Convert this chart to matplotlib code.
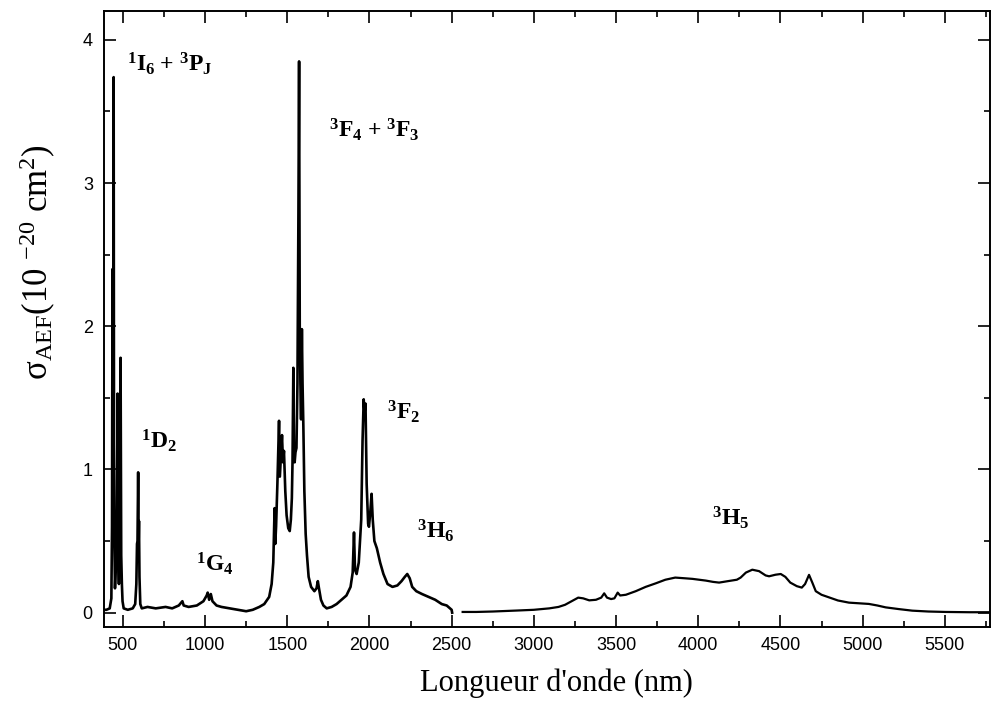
import matplotlib
matplotlib.use("Agg")
import matplotlib.pyplot as plt
from matplotlib.ticker import MultipleLocator

plt.rcParams['mathtext.fontset'] = 'custom'
plt.rcParams['mathtext.rm'] = 'Liberation Serif'
plt.rcParams['mathtext.it'] = 'Liberation Serif:italic'
plt.rcParams['mathtext.bf'] = 'Liberation Serif:bold'

# Visible / near-IR segment (wavelength nm, cross-section 1e-20 cm^2)
wl_vis = [390, 400, 420, 430, 434, 437, 439, 441, 444, 446, 449, 452, 458, 464, 468,
          471, 476, 480, 486, 490, 494, 498, 505, 530, 560, 575, 582, 586, 589, 593,
          596, 598, 601, 606, 615, 650, 700, 760, 800, 840, 862, 870, 900, 950, 990,
          1010, 1016, 1025, 1035, 1045, 1070, 1100, 1150, 1200, 1250, 1290, 1330, 1360,
          1390, 1405, 1415, 1423, 1427, 1432, 1440, 1450, 1455, 1462, 1468, 1474, 1480,
          1488, 1496, 1506, 1515, 1522, 1528, 1532, 1537, 1541, 1545, 1550, 1556, 1562,
          1568, 1572, 1576, 1580, 1584, 1589, 1593, 1598, 1604, 1612, 1620, 1630, 1645,
          1665, 1678, 1686, 1693, 1705, 1720, 1740, 1770, 1800, 1830, 1860, 1885, 1898,
          1906, 1912, 1922, 1935, 1950, 1958, 1965, 1970, 1976, 1983, 1992, 1997, 2005,
          2013, 2020, 2030, 2045, 2065, 2085, 2110, 2140, 2170, 2195, 2215, 2230, 2245,
          2260, 2285, 2320, 2360, 2400, 2440, 2470, 2500, 2503]
sig_vis = [0.02, 0.02, 0.03, 0.10, 0.60, 2.40, 0.80, 0.90, 3.74, 1.20, 0.45, 0.17, 0.35,
           0.70, 1.53, 0.40, 0.20, 0.50, 1.78, 0.40, 0.20, 0.08, 0.03, 0.02, 0.03, 0.06,
           0.20, 0.48, 0.50, 0.98, 0.50, 0.64, 0.25, 0.06, 0.03, 0.04, 0.03, 0.04, 0.03,
           0.05, 0.08, 0.05, 0.04, 0.05, 0.08, 0.12, 0.14, 0.09, 0.13, 0.08, 0.05, 0.04,
           0.03, 0.02, 0.01, 0.02, 0.04, 0.06, 0.11, 0.20, 0.35, 0.73, 0.48, 0.60, 0.90,
           1.34, 0.95, 1.10, 1.24, 1.05, 1.13, 0.85, 0.68, 0.59, 0.57, 0.65, 0.80, 1.05,
           1.71, 1.10, 1.05, 1.12, 1.15, 1.60, 2.80, 3.85, 2.00, 1.60, 1.35, 1.98, 1.60,
           1.30, 0.85, 0.55, 0.40, 0.25, 0.18, 0.15, 0.17, 0.22, 0.17, 0.09, 0.05, 0.03,
           0.04, 0.06, 0.09, 0.12, 0.18, 0.28, 0.56, 0.30, 0.27, 0.35, 0.65, 1.20, 1.49,
           1.40, 1.46, 0.90, 0.62, 0.60, 0.70, 0.83, 0.65, 0.50, 0.45, 0.35, 0.27, 0.20,
           0.18, 0.19, 0.22, 0.25, 0.27, 0.24, 0.18, 0.15, 0.13, 0.11, 0.09, 0.06, 0.05,
           0.02, 0.00]

# Mid-IR segment
wl_ir = [2567, 2650, 2750, 2900, 3000, 3094, 3150, 3190, 3230, 3270, 3300, 3337, 3378,
         3410, 3428, 3445, 3470, 3490, 3510, 3525, 3560, 3620, 3680, 3742, 3800, 3860,
         3920, 3965, 4046, 4090, 4127, 4180, 4235, 4258, 4290, 4329, 4370, 4410, 4431,
         4470, 4502, 4530, 4560, 4600, 4630, 4650, 4674, 4694, 4715, 4750, 4795, 4850,
         4917, 5038, 5090, 5140, 5220, 5302, 5400, 5504, 5650, 5780]
sig_ir = [0.005, 0.005, 0.008, 0.015, 0.02, 0.03, 0.04, 0.055, 0.08, 0.105, 0.10, 0.086,
          0.09, 0.105, 0.135, 0.105, 0.095, 0.10, 0.14, 0.12, 0.125, 0.15, 0.18, 0.205,
          0.23, 0.245, 0.24, 0.236, 0.224, 0.215, 0.21, 0.22, 0.23, 0.245, 0.28, 0.30,
          0.29, 0.26, 0.254, 0.265, 0.27, 0.25, 0.21, 0.185, 0.175, 0.20, 0.264, 0.21,
          0.15, 0.125, 0.107, 0.085, 0.07, 0.061, 0.05, 0.037, 0.025, 0.014, 0.008,
          0.005, 0.003, 0.003]

labels = [r'$^{\mathbf{1}}\mathbf{I}_{\mathbf{6}}\ \mathbf{+}\ ^{\mathbf{3}}\mathbf{P}_{\mathbf{J}}$',
          r'$^{\mathbf{3}}\mathbf{F}_{\mathbf{4}}\ \mathbf{+}\ ^{\mathbf{3}}\mathbf{F}_{\mathbf{3}}$',
          r'$^{\mathbf{1}}\mathbf{D}_{\mathbf{2}}$',
          r'$^{\mathbf{1}}\mathbf{G}_{\mathbf{4}}$',
          r'$^{\mathbf{3}}\mathbf{F}_{\mathbf{2}}$',
          r'$^{\mathbf{3}}\mathbf{H}_{\mathbf{6}}$',
          r'$^{\mathbf{3}}\mathbf{H}_{\mathbf{5}}$']
label_wl = [785, 2031, 719, 1059, 2207, 2401, 4200]
label_sig = [3.83, 3.37, 1.20, 0.34, 1.40, 0.57, 0.66]

fig = plt.figure(figsize=(9.92, 7.04), dpi=100)
ax = fig.add_axes([0.1048, 0.1094, 0.8932, 0.8746])

ax.plot(wl_vis, sig_vis, color='black', lw=1.9)
ax.plot(wl_ir, sig_ir, color='black', lw=1.6)

for t, x, y in zip(labels, label_wl, label_sig):
    ax.text(x, y, t, fontsize=17, ha='center', va='center')

ax.set_xlim(385, 5775)
ax.set_ylim(-0.1, 4.2)
ax.xaxis.set_major_locator(MultipleLocator(500))
ax.xaxis.set_minor_locator(MultipleLocator(250))
ax.yaxis.set_major_locator(MultipleLocator(1))
ax.yaxis.set_minor_locator(MultipleLocator(0.5))
ax.tick_params(which='both', direction='in', top=True, right=True, width=1.2)
ax.tick_params(which='major', length=8.5)
ax.tick_params(which='minor', length=4.5)
ax.tick_params(axis='x', which='major', pad=7)
ax.tick_params(axis='y', which='major', pad=8)
for lab in ax.get_xticklabels() + ax.get_yticklabels():
    lab.set_fontfamily('Liberation Sans')
    lab.set_fontsize(13)
for s in ax.spines.values():
    s.set_linewidth(1.4)

ax.set_xlabel("Longueur d'onde (nm)", fontfamily='Liberation Serif', fontsize=22)
ax.xaxis.set_label_coords(0.511, -0.068)
ax.set_ylabel(r'$\mathrm{\sigma_{AEF}(10\ ^{{-}20}\ cm^{2})}$', fontsize=25)
ax.yaxis.set_label_coords(-0.052, 0.593)

fig.savefig('out.png', dpi=100)
